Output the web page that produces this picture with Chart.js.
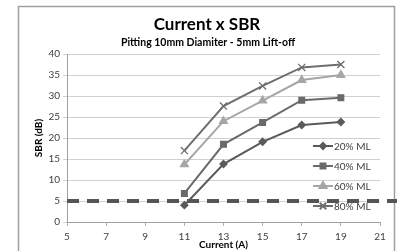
<!DOCTYPE html>
<html><head><meta charset="utf-8">
<script src="https://cdn.jsdelivr.net/npm/chart.js@4/dist/chart.umd.min.js"></script>
<style>html,body{margin:0;padding:0;background:#fff}#wrap{width:397px;height:251px}</style>
</head><body><div id="wrap"><canvas id="c" width="397" height="251"></canvas></div>
<script>
const currents = [11, 13, 15, 17, 19];
const ml20 = [4.0, 13.8, 19.1, 23.1, 23.8];
const ml40 = [6.8, 18.5, 23.7, 29.0, 29.6];
const ml60 = [13.7, 24.0, 28.9, 33.8, 35.0];
const ml80 = [17.0, 27.6, 32.4, 36.8, 37.5];
const seriesNames = ['20% ML', '40% ML', '60% ML', '80% ML'];
const thresholdX = [5, 22.4];
const thresholdY = [5, 5];
const titleText = 'Current x SBR';
const subtitleText = 'Pitting 10mm Diamiter - 5mm Lift-off';

const FONT = 'Lato, "Open Sans", sans-serif';
const pts = (xs, ys) => xs.map((x, i) => ({x, y: ys[i]}));

const styles = [
  {color: '#5a5a5a', style: 'rectRot', r: 3.5},
  {color: '#6a6a6a', style: 'rect', r: 4},
  {color: '#a6a6a6', style: 'triangle', r: 4.5},
  {color: '#6e6e6e', style: 'crossRot', r: 5},
];
const vals = [ml20, ml40, ml60, ml80];

const datasets = vals.map((v, i) => ({
  label: seriesNames[i],
  data: pts(currents, v),
  borderColor: styles[i].color,
  backgroundColor: styles[i].color,
  pointStyle: styles[i].style,
  pointRadius: styles[i].r,
  pointBorderWidth: 1.3,
  borderWidth: 2,
  showLine: true,
  order: 1
}));
datasets.push({
  label: 'threshold',
  data: pts(thresholdX, thresholdY),
  borderColor: '#555555',
  borderWidth: 4,
  borderDash: [12, 8],
  pointRadius: 0,
  showLine: true,
  clip: false,
  order: 5
});

const deco = {
  id: 'deco',
  beforeDraw(chart) {
    const ctx = chart.ctx;
    ctx.save();
    ctx.strokeStyle = '#a0a0a0';
    ctx.lineWidth = 1.5;
    ctx.beginPath();
    ctx.moveTo(18.5, 260); ctx.lineTo(18.5, 6.5); ctx.lineTo(394.5, 6.5); ctx.lineTo(394.5, 260);
    ctx.stroke();
    ctx.fillStyle = '#000';
    ctx.textAlign = 'center';
    ctx.textBaseline = 'middle';
    ctx.font = 'bold 17px ' + FONT;
    ctx.fillText(titleText, 207, 25);
    ctx.font = 'bold 10.5px ' + FONT;
    ctx.fillText(subtitleText, 208, 43);
    ctx.restore();
  },
  afterDatasetsDraw(chart) {
    const ctx = chart.ctx;
    ctx.save();
    const lx0 = 313, lx1 = 333, tx = 334;
    const rowY = [146, 166, 186, 206];
    ctx.font = '10px ' + FONT;
    ctx.textBaseline = 'middle';
    ctx.textAlign = 'left';
    seriesNames.forEach((n, i) => {
      const y = rowY[i];
      const s = styles[i];
      ctx.strokeStyle = s.color; ctx.fillStyle = s.color; ctx.lineWidth = 2;
      ctx.beginPath(); ctx.moveTo(lx0, y); ctx.lineTo(lx1, y); ctx.stroke();
      Chart.helpers.drawPoint(ctx, {pointStyle: s.style, radius: s.r - 0.5, borderWidth: 1.3}, (lx0 + lx1) / 2, y);
      ctx.fillStyle = '#404040';
      ctx.fillText(n, tx, y + 0.5);
    });
    ctx.restore();
  }
};

new Chart(document.getElementById('c'), {
  type: 'scatter',
  data: {datasets},
  options: {
    responsive: false,
    animation: false,
    devicePixelRatio: 1,
    layout: {padding: {left: 19, right: 17, top: 54, bottom: 0}},
    plugins: {legend: {display: false}, tooltip: {enabled: false}},
    scales: {
      x: {
        type: 'linear', min: 5, max: 21,
        afterFit(s) { s.height = 29; },
        ticks: {stepSize: 2, color: '#404040', font: {family: FONT, size: 10}, padding: 5, maxRotation: 0},
        grid: {display: true, drawOnChartArea: false, drawTicks: true, tickLength: 4, color: '#b0b0b0'},
        border: {color: '#a0a0a0', width: 1},
        title: {display: true, text: 'Current (A)', color: '#000', font: {family: FONT, size: 10, weight: 'bold'}, padding: {top: 0, bottom: 0}}
      },
      y: {
        min: 0, max: 40,
        afterFit(s) { s.width = 48; },
        ticks: {stepSize: 5, color: '#404040', font: {family: FONT, size: 10}, padding: 3},
        grid: {color: '#d0d0d0', lineWidth: 1, drawTicks: true, tickLength: 4},
        border: {color: '#a0a0a0', width: 1},
        title: {display: true, text: 'SBR (dB)', color: '#000', font: {family: FONT, size: 10, weight: 'bold'}, padding: {top: 14, bottom: 0}}
      }
    }
  },
  plugins: [deco]
});
</script>
</body></html>
